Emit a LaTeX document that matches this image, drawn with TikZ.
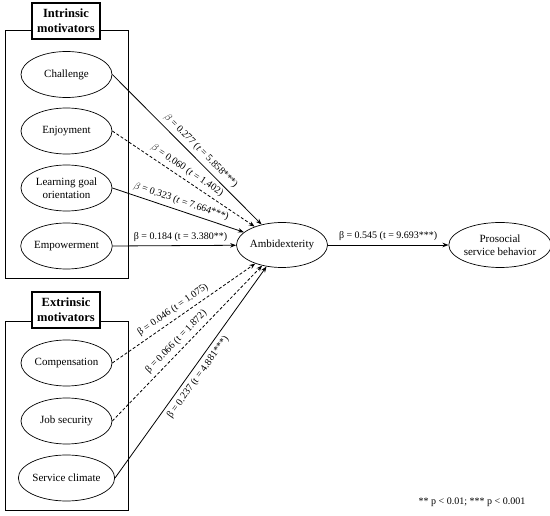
\documentclass[tikz,border=0pt]{standalone}
\usepackage{fontspec}
\setmainfont{Liberation Serif}
\usetikzlibrary{shapes.geometric,arrows.meta}
\begin{document}
\begin{tikzpicture}[x=1pt,y=-1pt,
 var/.style={ellipse,draw,line width=0.7pt,minimum width=91pt,minimum height=46pt,inner sep=0pt,align=center,font=\fontsize{11}{13.5}\selectfont},
 grp/.style={draw,line width=0.6pt},
 ttl/.style={draw,line width=1.4pt,fill=white,align=center,font=\fontsize{12.5}{15}\selectfont\bfseries,inner sep=2pt,minimum width=68pt,minimum height=36pt},
 sig/.style={line width=0.8pt,-{Stealth[length=6pt,width=4.5pt]}},
 ns/.style={sig,dash pattern=on 3pt off 2pt},
 lbl/.style={font=\fontsize{10}{12}\selectfont,sloped,inner sep=2.5pt}]
\useasboundingbox (0,0) rectangle (550,516);
\draw[grp] (5,30) rectangle (128,278);
\draw[grp] (5,321) rectangle (128,510);
\node[ttl] (ti) at (66,21) {Intrinsic\\motivators};
\node[ttl] (te) at (66,310) {Extrinsic\\motivators};
\node[var] (chal) at (66.5,74.5) {Challenge};
\node[var] (enj) at (66.5,131) {Enjoyment};
\node[var] (lgo) at (66.5,188) {Learning goal\\orientation};
\node[var] (emp) at (66.5,246) {Empowerment};
\node[var] (comp) at (66.5,363) {Compensation};
\node[var] (job) at (66.5,421) {Job security};
\node[var] (sc) at (66.5,478) {Service climate};
\node[var,minimum height=45pt] (amb) at (282,245) {Ambidexterity};
\node[var,minimum width=94pt,minimum height=45pt] (pro) at (500,245) {Prosocial\\service behavior};
\draw[sig] (chal.east) -- node[lbl,above=1.5pt,pos=0.55] {$\beta$ = 0.277 (\textit{t} = 5.858***)} (amb);
\draw[ns] (enj.east) -- node[lbl,above=1.5pt,pos=0.49] {$\beta$ = 0.060 (\textit{t} = 1.402)} (amb);
\draw[sig] (lgo.east) -- node[lbl,above=1.5pt,pos=0.5] {$\beta$ = 0.323 (\textit{t} = 7.664***)} (amb);
\draw[sig] (emp.east) -- node[lbl,above=1pt,pos=0.55] {β = 0.184 (t = 3.380**)} (amb);
\draw[ns] (comp.east) -- node[lbl,above=1.5pt,pos=0.46] {β = 0.046 (t = 1.075)} (amb);
\draw[ns] (job.east) -- node[lbl,above=1.5pt,pos=0.47] {β = 0.066 (t = 1.872)} (amb);
\draw[sig] (sc.east) -- node[lbl,below=1.5pt,pos=0.5] {β = 0.237 (t = 4.881***)} (amb);
\draw[sig] (amb) -- node[lbl,above=1pt] {β = 0.545 (t = 9.693***)} (pro);
\node[font=\fontsize{10}{12}\selectfont] (note) at (472,502) {** p < 0.01; *** p < 0.001};
\end{tikzpicture}
\end{document}
